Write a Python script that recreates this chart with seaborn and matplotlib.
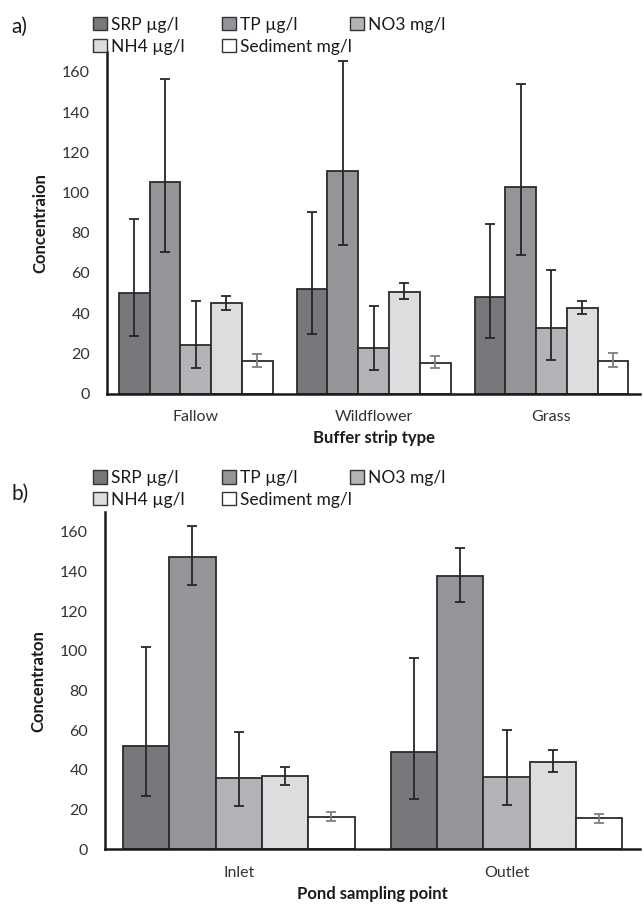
import matplotlib
matplotlib.use("Agg")
import matplotlib.pyplot as plt
import seaborn as sns
import pandas as pd
import numpy as np
from matplotlib.patches import Patch

# ---------------- data ----------------
series = ["SRP µg/l", "TP µg/l", "NO3 mg/l", "NH4 µg/l", "Sediment mg/l"]

cats_a = ["Fallow", "Wildflower", "Grass"]
srp_a = [49.8, 51.8, 48.2]
tp_a = [105.2, 110.5, 103.0]
no3_a = [24.4, 22.9, 32.4]
nh4_a = [44.9, 50.6, 42.4]
sed_a = [16.3, 15.3, 16.3]
srp_a_lo = [28.6, 29.6, 27.6]
srp_a_hi = [86.7, 90.5, 84.4]
tp_a_lo = [70.6, 73.9, 69.0]
tp_a_hi = [156.7, 165.3, 154.0]
no3_a_lo = [12.6, 11.8, 16.8]
no3_a_hi = [46.2, 43.7, 61.5]
nh4_a_lo = [41.5, 46.9, 39.4]
nh4_a_hi = [48.7, 54.8, 45.9]
sed_a_lo = [13.3, 12.5, 13.3]
sed_a_hi = [19.9, 18.7, 20.1]

cats_b = ["Inlet", "Outlet"]
srp_b = [52.0, 49.2]
tp_b = [147.4, 137.7]
no3_b = [36.1, 36.6]
nh4_b = [36.8, 44.0]
sed_b = [16.4, 15.6]
srp_b_lo = [26.7, 25.2]
srp_b_hi = [101.9, 96.2]
tp_b_lo = [133.3, 124.7]
tp_b_hi = [162.9, 152.1]
no3_b_lo = [22.0, 22.3]
no3_b_hi = [59.1, 60.0]
nh4_b_lo = [32.4, 38.9]
nh4_b_hi = [41.6, 50.0]
sed_b_lo = [14.3, 13.4]
sed_b_hi = [18.8, 17.9]

yticks = [0, 20, 40, 60, 80, 100, 120, 140, 160]

colors = ["#77787c", "#949598", "#b2b3b6", "#dcddde", "#ffffff"]
err_colors = ["#262626", "#262626", "#262626", "#262626", "#7f7f7f"]

# ---------------- plotting ----------------
sns.set_theme(style="white")
plt.rcParams["font.family"] = ["Lato", "DejaVu Sans"]

fig = plt.figure(figsize=(6.43, 9.09), dpi=100)


def build(cats, vals, los, his):
    rows = []
    for s, v, lo, hi in zip(series, vals, los, his):
        for c, vv, l, h in zip(cats, v, lo, hi):
            rows.append({"cat": c, "series": s, "val": vv, "lo": l, "hi": h})
    return pd.DataFrame(rows)


def panel(rect, df, cats, ylabel, xlabel, letter, letter_y, leg_y):
    ax = fig.add_axes(rect)
    sns.barplot(data=df, x="cat", y="val", hue="series", order=cats,
                hue_order=series, palette=colors, width=0.865,
                edgecolor="#2b2b2b", linewidth=1.3, errorbar=None,
                legend=False, ax=ax, saturation=1)
    for i, (s, cont) in enumerate(zip(series, ax.containers)):
        sub = df[df.series == s].set_index("cat").loc[cats]
        xs = [p.get_x() + p.get_width() / 2 for p in cont.patches]
        ys = sub["val"].values
        yerr = np.vstack([ys - sub["lo"].values, sub["hi"].values - ys])
        ax.errorbar(xs, ys, yerr=yerr, fmt="none", ecolor=err_colors[i],
                    elinewidth=1.3, capsize=3.5, capthick=1.3)
    ax.set_ylim(0, 170)
    ax.set_yticks(yticks)
    ax.set_xlim(-0.5, len(cats) - 0.5)
    ax.tick_params(axis="both", length=0, labelsize=11.5, colors="#333333")
    ax.tick_params(axis="x", pad=12)
    ax.tick_params(axis="y", pad=12)
    for sp in ["top", "right"]:
        ax.spines[sp].set_visible(False)
    for sp in ["left", "bottom"]:
        ax.spines[sp].set_color("#1a1a1a")
        ax.spines[sp].set_linewidth(1.8)
    ax.set_ylabel(ylabel, fontsize=12, fontweight="bold", color="#1a1a1a",
                  labelpad=10)
    ax.set_xlabel(xlabel, fontsize=12, fontweight="bold", color="#1a1a1a",
                  labelpad=4)
    fig.text(0.018, letter_y, letter, fontsize=15, color="#1a1a1a", va="center")
    handles = [Patch(facecolor=c, edgecolor="#333333", linewidth=1.0)
               for c in colors]
    # Excel-style legend: three equal-width columns, row-major order
    columns = [[0, 3], [1, 4], [2]]
    col_x = [0.1446, 0.345, 0.544]
    for cx, idxs in zip(col_x, columns):
        fig.legend([handles[k] for k in idxs], [series[k] for k in idxs],
                   ncol=1, loc="upper left", bbox_to_anchor=(cx, leg_y),
                   frameon=False, fontsize=12.5, handlelength=0.8,
                   handleheight=0.8, handletextpad=0.25,
                   labelspacing=0.33, borderpad=0, borderaxespad=0,
                   labelcolor="#1a1a1a")
    return ax


df_a = build(cats_a, [srp_a, tp_a, no3_a, nh4_a, sed_a],
             [srp_a_lo, tp_a_lo, no3_a_lo, nh4_a_lo, sed_a_lo],
             [srp_a_hi, tp_a_hi, no3_a_hi, nh4_a_hi, sed_a_hi])
df_b = build(cats_b, [srp_b, tp_b, no3_b, nh4_b, sed_b],
             [srp_b_lo, tp_b_lo, no3_b_lo, nh4_b_lo, sed_b_lo],
             [srp_b_hi, tp_b_hi, no3_b_hi, nh4_b_hi, sed_b_hi])

panel([0.166, 0.567, 0.83, 0.376], df_a, cats_a, "Concentraion",
      "Buffer strip type", "a)", 0.970, 0.9815)
panel([0.163, 0.0657, 0.833, 0.371], df_b, cats_b, "Concentraton",
      "Pond sampling point", "b)", 0.457, 0.483)

fig.savefig("out.png", dpi=100)
